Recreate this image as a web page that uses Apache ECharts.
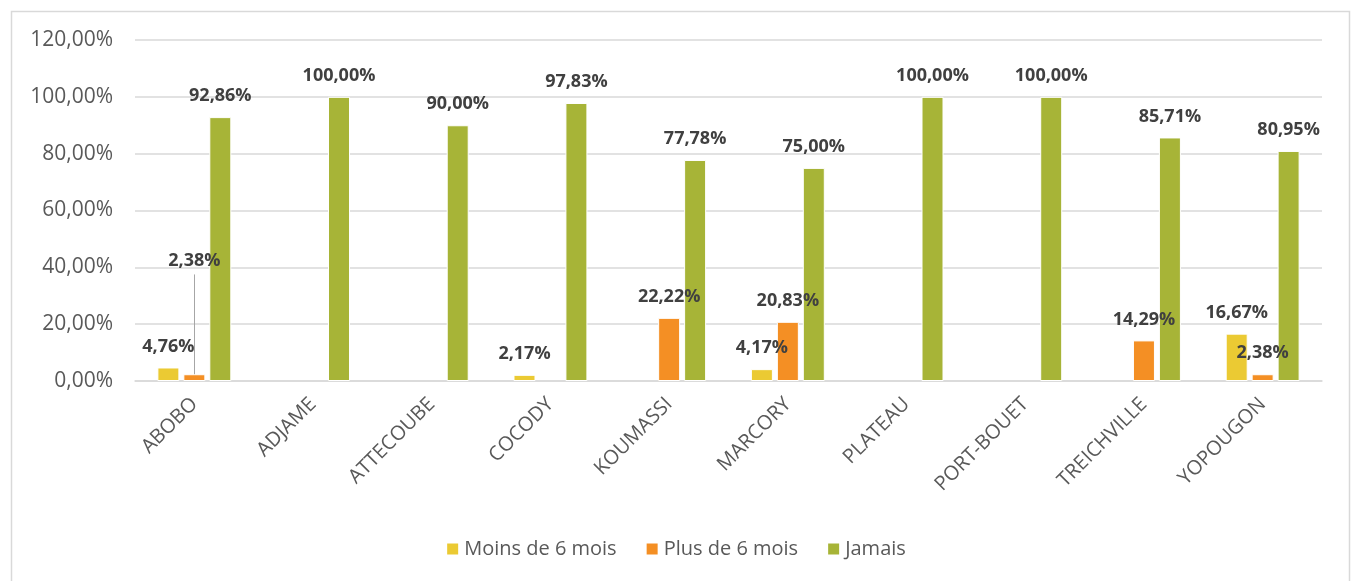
<!DOCTYPE html>
<html>
<head>
    <meta charset="utf-8"/>
    <title>ECharts</title>
    <script src="https://cdn.jsdelivr.net/npm/echarts@6/dist/echarts.min.js"></script>
    <style>
        html, body { margin: 0; padding: 0; background: #fff; }
        #main { width: 1351px; height: 581px; }
    </style>
</head>
<body>
<div id="main"></div>
<script type="text/javascript">
    var communes = ['ABOBO', 'ADJAME', 'ATTECOUBE', 'COCODY', 'KOUMASSI', 'MARCORY', 'PLATEAU', 'PORT-BOUET', 'TREICHVILLE', 'YOPOUGON'];
    var seriesNames = ['Moins de 6 mois', 'Plus de 6 mois', 'Jamais'];
    var moins6 = [4.76, null, null, 2.17, null, 4.17, null, null, null, 16.67];
    var plus6 = [2.38, null, null, null, 22.22, 20.83, null, null, 14.29, 2.38];
    var jamais = [92.86, 100, 90, 97.83, 77.78, 75, 100, 100, 85.71, 80.95];
    var couleurs = ['#EBCA33', '#F48F24', '#A7B437'];

    var myChart = echarts.init(document.getElementById('main'));

    function fmt(v) {
        return v.toFixed(2).replace('.', ',') + '%';
    }

    var labelStyle = {
        show: true,
        position: 'top',
        distance: 12,
        fontFamily: 'Open Sans',
        fontWeight: 'bold',
        fontSize: 18,
        color: '#404040',
        formatter: function (p) { return fmt(p.value); }
    };

    function makeSeries(name, data, color) {
        return {
            name: name,
            type: 'bar',
            data: data,
            barWidth: 22,
            barGap: '18%',
            itemStyle: { color: color, borderColor: '#fff', borderWidth: 1 },
            label: labelStyle
        };
    }

    var s1 = makeSeries(seriesNames[0], moins6, couleurs[0]);
    var s2 = makeSeries(seriesNames[1], plus6, couleurs[1]);
    var s3 = makeSeries(seriesNames[2], jamais, couleurs[2]);

    // libellé ABOBO déplacé vers le haut avec un trait de rappel
    s2.data = plus6.map(function (v, i) {
        if (i === 0) {
            return { value: v, label: { offset: [0, -92] } };
        }
        return v;
    });
    s2.markLine = {
        silent: true,
        symbol: 'none',
        label: { show: false },
        lineStyle: { color: '#A6A6A6', type: 'solid', width: 1 },
        data: [[{ coord: ['ABOBO', 2.38] }, { coord: ['ABOBO', 37.5] }]]
    };

    var option = {
        animation: false,
        textStyle: { fontFamily: 'Open Sans' },
        graphic: [{
            type: 'rect',
            shape: { x: 11.5, y: 11.5, width: 1338, height: 600 },
            style: { fill: 'none', stroke: '#D9D9D9', lineWidth: 1.5 },
            silent: true
        }],
        grid: { left: 135, right: 29, top: 40, bottom: 200 },
        legend: {
            bottom: 17,
            left: 'center',
            itemWidth: 13,
            itemHeight: 13,
            itemGap: 28,
            icon: 'rect',
            textStyle: { fontSize: 20, color: '#595959', fontFamily: 'Open Sans' },
            data: seriesNames
        },
        xAxis: {
            type: 'category',
            data: communes,
            axisTick: { show: false },
            axisLine: { lineStyle: { color: '#D9D9D9', width: 1.5 } },
            axisLabel: { rotate: 45, fontSize: 20, color: '#595959', margin: 20, interval: 0 }
        },
        yAxis: {
            type: 'value',
            min: 0,
            max: 120,
            interval: 20,
            axisLabel: {
                fontSize: 21,
                color: '#595959',
                margin: 22,
                formatter: function (v) { return fmt(v); }
            },
            splitLine: { lineStyle: { color: '#D9D9D9', width: 1.5 } }
        },
        series: [s1, s2, s3]
    };

    myChart.setOption(option);
</script>
</body>
</html>
